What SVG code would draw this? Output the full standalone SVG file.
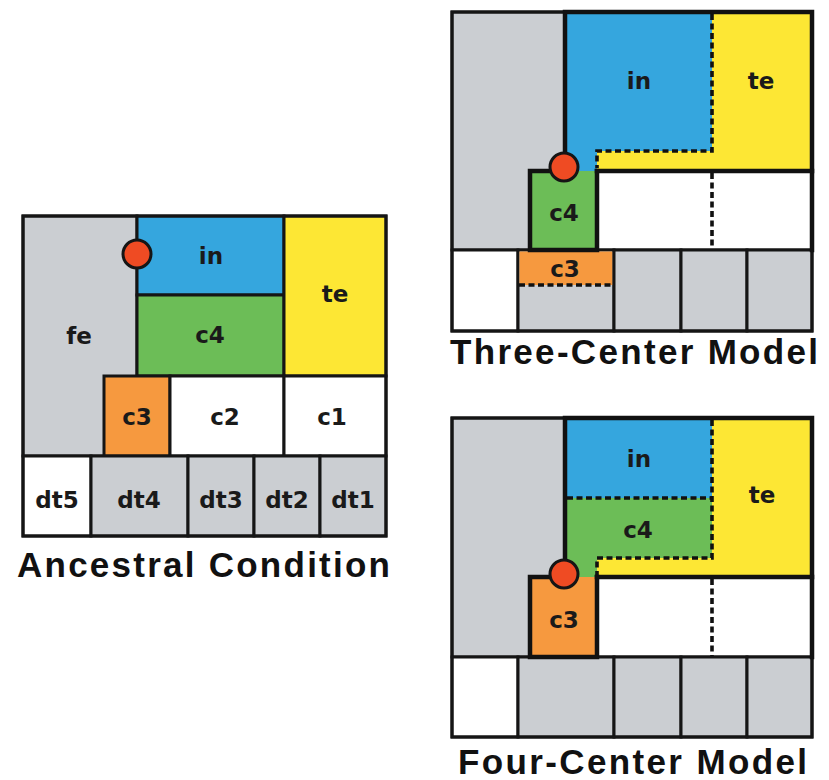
<svg xmlns="http://www.w3.org/2000/svg" width="829" height="780" viewBox="0 0 829 780">
  <style>
    .cell { stroke: #151515; stroke-width: 3; }
    .nofill { fill: none; stroke: #151515; stroke-width: 3; }
    .thick { fill: none; stroke: #111; stroke-width: 4.5; stroke-linejoin: miter; stroke-linecap: square; }
    .dash { fill: none; stroke: #111; stroke-width: 3.6; stroke-dasharray: 6 3.5; }
    .gray { fill: #cbced2; }
    .blue { fill: #35a6de; }
    .green { fill: #6cbd57; }
    .yellow { fill: #fde734; }
    .orange { fill: #f6993f; }
    .white { fill: #ffffff; }
    .dot { fill: #ef4b23; stroke: #151515; stroke-width: 3; }
    .lbl { font-family: "DejaVu Sans", "Liberation Sans", sans-serif; font-weight: bold; font-size: 23px; fill: #1a1a1a; text-anchor: middle; }
    .title { font-family: "Liberation Sans", Arial, sans-serif; font-weight: bold; font-size: 35px; fill: #111; }
  </style>
  <rect width="829" height="780" fill="#ffffff"/>

  <!-- Ancestral condition -->
  <g id="ancestral">
    <rect class="cell gray" x="23" y="216" width="114" height="240"/>
    <rect class="cell blue" x="137" y="216" width="147" height="79"/>
    <rect class="cell green" x="137" y="295" width="147" height="81"/>
    <rect class="cell yellow" x="284" y="216" width="102" height="160"/>
    <rect class="cell orange" x="104" y="376" width="66" height="80"/>
    <rect class="cell white" x="170" y="376" width="114" height="80"/>
    <rect class="cell white" x="284" y="376" width="102" height="80"/>
    <rect class="cell white" x="23" y="456" width="68" height="80"/>
    <rect class="cell gray" x="91" y="456" width="97" height="80"/>
    <rect class="cell gray" x="188" y="456" width="66" height="80"/>
    <rect class="cell gray" x="254" y="456" width="66" height="80"/>
    <rect class="cell gray" x="320" y="456" width="66" height="80"/>
    <rect class="nofill" x="23" y="216" width="363" height="320"/>
    <circle class="dot" cx="137" cy="254" r="14"/>
    <text class="lbl" x="211" y="264">in</text>
    <text class="lbl" x="335" y="302">te</text>
    <text class="lbl" x="79" y="344">fe</text>
    <text class="lbl" x="210" y="343">c4</text>
    <text class="lbl" x="137" y="425">c3</text>
    <text class="lbl" x="225" y="425">c2</text>
    <text class="lbl" x="332" y="425">c1</text>
    <text class="lbl" x="57" y="508">dt5</text>
    <text class="lbl" x="139" y="508">dt4</text>
    <text class="lbl" x="221" y="508">dt3</text>
    <text class="lbl" x="287" y="508">dt2</text>
    <text class="lbl" x="353" y="508">dt1</text>
    <text class="title" x="17" y="577" textLength="373" lengthAdjust="spacing">Ancestral Condition</text>
  </g>

  <!-- Three-center model -->
  <g id="three-center">
    <rect class="cell gray" x="452" y="12" width="113" height="238"/>
    <polygon class="blue" points="565,12 712,12 712,151 597,151 597,171 565,171"/>
    <polygon class="yellow" points="712,12 812,12 812,171 597,171 597,151 712,151"/>
    <rect class="cell white" x="597" y="171" width="215" height="79"/>
    <rect class="green" x="530" y="171" width="67" height="79"/>
    <rect class="cell white" x="452" y="250" width="66" height="81"/>
    <rect class="cell gray" x="518" y="250" width="96" height="81"/>
    <rect class="orange" x="519.5" y="251.5" width="93" height="33.5"/>
    <rect class="cell gray" x="614" y="250" width="67" height="81"/>
    <rect class="cell gray" x="681" y="250" width="66" height="81"/>
    <rect class="cell gray" x="747" y="250" width="65" height="81"/>
    <path class="dash" d="M712,14 V151 H597 V168"/>
    <path class="dash" d="M712,173 V249"/>
    <path class="dash" d="M519,285 H613"/>
    <rect class="nofill" x="452" y="12" width="360" height="319"/>
    <path class="thick" d="M565,160 V12 H812 V250"/>
    <path class="thick" d="M597,171 H812"/>
    <path class="thick" d="M548,171 H530 V250 H597 V171"/>
    <circle class="dot" cx="564" cy="167" r="14"/>
    <text class="lbl" x="639" y="89">in</text>
    <text class="lbl" x="761" y="89">te</text>
    <text class="lbl" x="564" y="221">c4</text>
    <text class="lbl" x="565" y="277">c3</text>
    <text class="title" x="450" y="364" textLength="368" lengthAdjust="spacing">Three-Center Model</text>
  </g>

  <!-- Four-center model -->
  <g id="four-center">
    <rect class="cell gray" x="452" y="418" width="113" height="239"/>
    <rect class="blue" x="565" y="418" width="147" height="80"/>
    <polygon class="green" points="565,498 712,498 712,558 597,558 597,577 565,577"/>
    <polygon class="yellow" points="712,418 812,418 812,577 597,577 597,558 712,558"/>
    <rect class="cell white" x="597" y="577" width="215" height="80"/>
    <rect class="orange" x="530" y="577" width="67" height="80"/>
    <rect class="cell white" x="452" y="657" width="66" height="80"/>
    <rect class="cell gray" x="518" y="657" width="96" height="80"/>
    <rect class="cell gray" x="614" y="657" width="67" height="80"/>
    <rect class="cell gray" x="681" y="657" width="66" height="80"/>
    <rect class="cell gray" x="747" y="657" width="65" height="80"/>
    <path class="dash" d="M567,498 H712"/>
    <path class="dash" d="M712,420 V558 H597 V575"/>
    <path class="dash" d="M712,579 V656"/>
    <rect class="nofill" x="452" y="418" width="360" height="319"/>
    <path class="thick" d="M565,566 V418 H812 V657"/>
    <path class="thick" d="M597,577 H812"/>
    <path class="thick" d="M548,577 H530 V657 H597 V577"/>
    <circle class="dot" cx="564" cy="574" r="14"/>
    <text class="lbl" x="639" y="467">in</text>
    <text class="lbl" x="762" y="503">te</text>
    <text class="lbl" x="638" y="538">c4</text>
    <text class="lbl" x="564" y="628">c3</text>
    <text class="title" x="458" y="774" textLength="349" lengthAdjust="spacing">Four-Center Model</text>
  </g>
</svg>
